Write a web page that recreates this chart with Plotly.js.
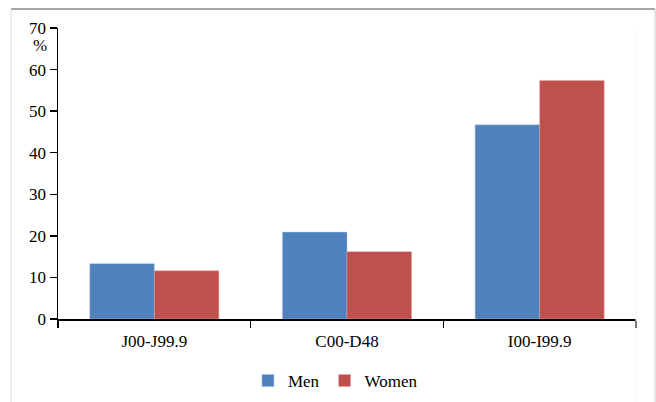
<!DOCTYPE html>
<html>
<head>
<meta charset="utf-8">
<script src="https://cdn.plot.ly/plotly-3.0.1.min.js"></script>
<style>html,body{margin:0;padding:0;background:#fff;}#chart{width:656px;height:402px;}</style>
</head>
<body>
<div id="chart"></div>
<script>
const categories = ["J00-J99.9", "C00-D48", "I00-I99.9"];
const menValues = [13.3, 20.9, 46.7];
const womenValues = [11.6, 16.2, 57.4];
const yTickVals = [0, 10, 20, 30, 40, 50, 60, 70];
const seriesNames = ["Men", "Women"];

const font = {family: "'Liberation Serif', 'Times New Roman', serif", size: 17, color: "#000"};

const traces = [
  {type: "bar", name: seriesNames[0], x: categories, y: menValues,
   marker: {color: "#4F81BD", line: {color: "#A7C0DE", width: 0.5}}},
  {type: "bar", name: seriesNames[1], x: categories, y: womenValues,
   marker: {color: "#C0504D", line: {color: "#DFA8A6", width: 0.5}}}
];

const layout = {
  width: 656, height: 402,
  margin: {l: 58, r: 20, t: 28, b: 83, autoexpand: false},
  paper_bgcolor: "#fff", plot_bgcolor: "#fff",
  font: font,
  barmode: "group", bargap: 0.33, bargroupgap: 0,
  showlegend: true,
  legend: {orientation: "h", x: 0.48, xanchor: "center", y: -0.213, yanchor: "middle",
           font: font, itemwidth: 30, tracegroupgap: 0, traceorder: "normal"},
  xaxis: {type: "category", showline: true, linecolor: "#000", linewidth: 1.5,
          ticks: "outside", tickson: "boundaries", ticklen: 7, tickwidth: 1.5, tickcolor: "#000",
          ticklabelstandoff: 6, automargin: false,
          showgrid: false, zeroline: false, tickfont: font, fixedrange: true},
  yaxis: {range: [0, 70], tickvals: yTickVals, showline: true, linecolor: "#000", linewidth: 1.5,
          ticks: "outside", ticklen: 7, tickwidth: 1.5, tickcolor: "#000", automargin: false,
          showgrid: false, zeroline: false, tickfont: font, fixedrange: true},
  annotations: [
    {text: "%", xref: "paper", yref: "y", x: -0.016, y: 70, xanchor: "right", yanchor: "top",
     yshift: -6, showarrow: false, font: font}
  ],
  shapes: [
    {type: "line", xref: "paper", yref: "paper", x0: -0.0813, x1: 1.033, y0: 1.065, y1: 1.065,
     line: {color: "#888", width: 1.5}},
    {type: "line", xref: "paper", yref: "paper", x0: -0.0813, x1: -0.0813, y0: 1.065, y1: -0.3,
     line: {color: "#ddd", width: 1}},
    {type: "line", xref: "paper", yref: "paper", x0: 1.033, x1: 1.033, y0: 1.065, y1: -0.3,
     line: {color: "#ccc", width: 1}},
    {type: "line", xref: "paper", yref: "paper", x0: 1.0, x1: 1.0, y0: 0.99, y1: -0.3,
     line: {color: "#f2f2f2", width: 1}}
  ]
};

Plotly.newPlot("chart", traces, layout, {displayModeBar: false, staticPlot: true});
</script>
</body>
</html>
